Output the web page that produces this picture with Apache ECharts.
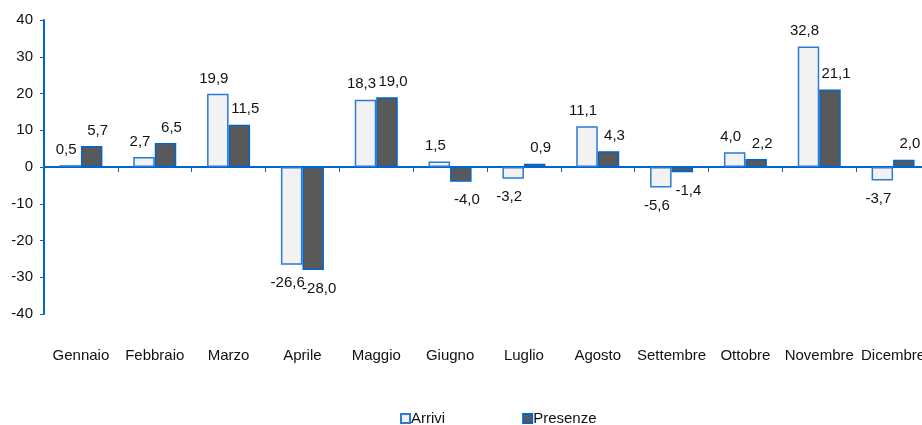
<!DOCTYPE html>
<html><head><meta charset="utf-8">
<script src="https://cdn.jsdelivr.net/npm/echarts@6/dist/echarts.min.js"></script>
<style>html,body{margin:0;padding:0;background:#fff;overflow:hidden;width:922px;height:425px}#c{width:930px;height:425px}</style>
</head><body><div id="c"></div>
<script>
const categories = ['Gennaio','Febbraio','Marzo','Aprile','Maggio','Giugno','Luglio','Agosto','Settembre','Ottobre','Novembre','Dicembre'];
const arrivi = [0.5, 2.7, 19.9, -26.6, 18.3, 1.5, -3.2, 11.1, -5.6, 4.0, 32.8, -3.7];
const presenze = [5.7, 6.5, 11.5, -28.0, 19.0, -4.0, 0.9, 4.3, -1.4, 2.2, 21.1, 2.0];
const yTicks = [-40, -30, -20, -10, 0, 10, 20, 30, 40];

const FONT = 'Liberation Sans';
const BLUE = '#0066cc';
const fmt = v => v.toFixed(1).replace('.', ',');
const mk = arr => arr.map(v => ({value: v, label: {position: v < 0 ? 'bottom' : 'top', distance: v < 0 ? 11 : 8}}));

const chart = echarts.init(document.getElementById('c'));
chart.setOption({
  animation: false,
  textStyle: {fontFamily: FONT},
  grid: {left: 44, right: 0, top: 20, bottom: 111, containLabel: false},
  legend: {
    top: 406, left: 395, itemGap: 77, itemWidth: 9, itemHeight: 9, icon: 'rect',
    textStyle: {fontFamily: FONT, fontSize: 15, color: '#111', padding: [0,0,0,-4]},
    data: ['Arrivi', 'Presenze']
  },
  xAxis: [{
    type: 'category', data: categories, position: 'bottom',
    axisLine: {show: false, onZero: false}, axisTick: {show: false},
    axisLabel: {fontFamily: FONT, fontSize: 15, color: '#111', margin: 34, interval: 0}
  }, {
    type: 'category', data: categories, position: 'bottom',
    axisLine: {show: true, onZero: true, lineStyle: {color: BLUE, width: 2}},
    axisTick: {show: true, length: 5, lineStyle: {color: BLUE, width: 1}},
    axisLabel: {show: false}
  }],
  yAxis: {
    type: 'value', min: -40, max: 40, interval: 10,
    axisLine: {show: true, lineStyle: {color: BLUE, width: 2}},
    axisTick: {show: true, length: 4, lineStyle: {color: BLUE, width: 1}},
    splitLine: {show: false},
    axisLabel: {fontFamily: FONT, fontSize: 15, color: '#111', margin: 11,
      formatter: v => yTicks.includes(v) ? String(v) : ''}
  },
  series: [{
    name: 'Arrivi', type: 'bar', xAxisIndex: 0, data: mk(arrivi),
    barWidth: 21.5, barGap: '0%',
    itemStyle: {color: '#f2f2f2', borderColor: '#2a7ad6', borderWidth: 1.5},
    label: {show: true, fontFamily: FONT, fontSize: 15, color: '#111', offset: [-4, 0], formatter: p => fmt(p.value)}
  }, {
    name: 'Presenze', type: 'bar', xAxisIndex: 0, data: mk(presenze),
    barWidth: 21.5, barGap: '0%',
    itemStyle: {color: '#595959', borderColor: BLUE, borderWidth: 1.5},
    label: {show: true, fontFamily: FONT, fontSize: 15, color: '#111', offset: [6, 0], formatter: p => fmt(p.value)}
  }]
});
</script></body></html>
